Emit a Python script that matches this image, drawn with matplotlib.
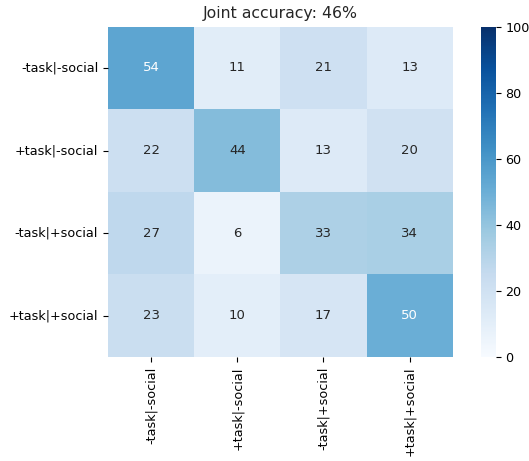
import matplotlib
matplotlib.use("Agg")
import matplotlib.pyplot as plt
import numpy as np
import seaborn as sns

labels = ["-task|-social", "+task|-social", "-task|+social", "+task|+social"]
row_1 = [54, 11, 21, 13]
row_2 = [22, 44, 13, 20]
row_3 = [27, 6, 33, 34]
row_4 = [23, 10, 17, 50]
joint_accuracy = 46

cm = np.array([row_1, row_2, row_3, row_4])

fig = plt.figure(figsize=(5.29, 4.61), dpi=100)
ax = fig.add_axes([0.204, 0.226, 0.652, 0.716])
cax = fig.add_axes([0.909, 0.226, 0.028, 0.716])

sns.heatmap(cm, annot=True, fmt="d", cmap="Blues", vmin=0, vmax=100,
            xticklabels=labels, yticklabels=labels, ax=ax, cbar_ax=cax,
            annot_kws={"size": 9.5})
ax.set_title("Joint accuracy: %d%%" % joint_accuracy, fontsize=11.3, color="#262626")
ax.tick_params(axis="x", labelrotation=90, labelsize=9.2)
ax.tick_params(axis="y", labelrotation=0, labelsize=9.2)
cax.tick_params(labelsize=9.2)

fig.savefig("out.png", dpi=100)
